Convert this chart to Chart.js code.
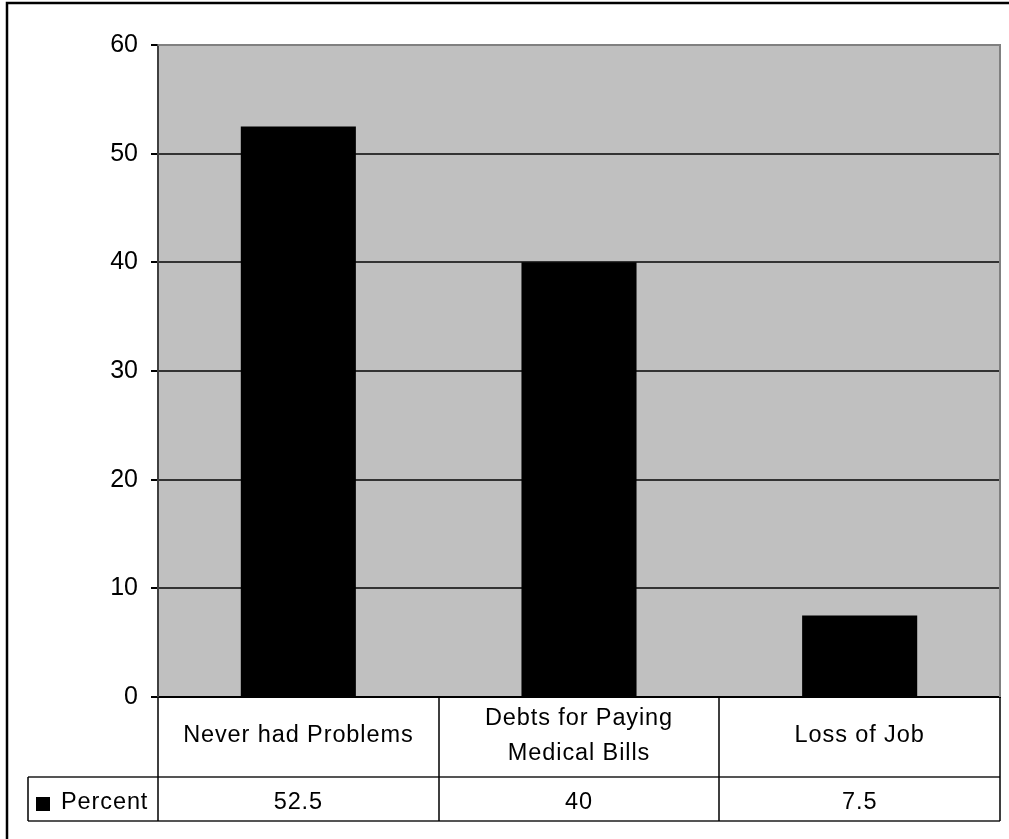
<!DOCTYPE html>
<html>
<head>
<meta charset="utf-8">
<title>Percent</title>
<script src="https://cdn.jsdelivr.net/npm/chart.js@4/dist/chart.umd.min.js"></script>
<style>
  html, body { margin: 0; padding: 0; background: #fff; }
  #chart { display: block; }
</style>
</head>
<body>
<canvas id="chart" width="1009" height="839"></canvas>
<script>
// ─── Data ─────────────────────────────────────────────────────────────────────
const categories    = ['Never had Problems', ['Debts for Paying', 'Medical Bills'], 'Loss of Job'];
const seriesName    = 'Percent';
const percentValues = [52.5, 40, 7.5];
const yMin  = 0;
const yMax  = 60;
const yStep = 10;

const FONT = "'Liberation Sans', Arial, Helvetica, sans-serif";

// ─── Plot background, outer frame ────────────────────────────────────────────
const framePlugin = {
  id: 'frame',
  beforeDraw(chart) {
    const { ctx, chartArea: a } = chart;
    ctx.save();
    ctx.fillStyle = '#c0c0c0';
    ctx.fillRect(a.left, a.top, a.right - a.left, a.bottom - a.top);
    ctx.restore();
  },
  afterDraw(chart) {
    const { ctx, chartArea: a } = chart;
    ctx.save();
    // grey border on the top/right of the plot
    ctx.strokeStyle = '#808080';
    ctx.lineWidth = 2;
    ctx.beginPath();
    ctx.moveTo(a.left, a.top);
    ctx.lineTo(a.right, a.top);
    ctx.lineTo(a.right, a.bottom);
    ctx.stroke();
    // outer frame
    ctx.strokeStyle = '#000';
    ctx.lineWidth = 2.5;
    ctx.strokeRect(7, 3, 1020, 860);
    ctx.restore();
  },
};

// ─── Data table under the x axis ─────────────────────────────────────────────
const dataTablePlugin = {
  id: 'dataTable',
  afterDraw(chart) {
    const { ctx } = chart;
    const x = chart.scales.x;
    const n = categories.length;
    const colW = (x.right - x.left) / n;
    const rowTop = x.top;
    const rowMid = rowTop + 80;
    const rowBottom = rowMid + 44;
    const keyLeft = 28;

    ctx.save();
    // horizontal rules
    ctx.strokeStyle = '#555';
    ctx.lineWidth = 2;
    ctx.beginPath();
    ctx.moveTo(keyLeft, rowMid);    ctx.lineTo(x.right, rowMid);
    ctx.moveTo(keyLeft, rowBottom); ctx.lineTo(x.right, rowBottom);
    ctx.stroke();

    // vertical rules
    ctx.strokeStyle = '#000';
    ctx.lineWidth = 1.5;
    ctx.beginPath();
    ctx.moveTo(keyLeft, rowMid); ctx.lineTo(keyLeft, rowBottom);
    for (let i = 0; i <= n; i++) {
      const px = Math.round(x.left + i * colW);
      ctx.moveTo(px, rowTop); ctx.lineTo(px, rowBottom);
    }
    ctx.stroke();

    ctx.fillStyle = '#000';
    ctx.font = `23.5px ${FONT}`;
    ctx.letterSpacing = '0.9px';
    ctx.textAlign = 'center';
    ctx.textBaseline = 'alphabetic';

    categories.forEach((label, i) => {
      const cx = x.getPixelForValue(i);
      const lines = Array.isArray(label) ? label : [label];
      lines.forEach((line, j) => {
        const base = rowTop + 45 + (j - (lines.length - 1) / 2) * 35;
        ctx.fillText(line, cx, base);
      });
      ctx.fillText(String(percentValues[i]), cx, rowBottom - 12.5);
    });

    // legend key + series name
    ctx.fillRect(36, rowMid + 20, 14, 14);
    ctx.textAlign = 'left';
    ctx.fillText(seriesName, 61, rowBottom - 12.5);
    ctx.restore();
  },
};

new Chart(document.getElementById('chart'), {
  type: 'bar',
  data: {
    labels: categories,
    datasets: [{
      label: seriesName,
      data: percentValues,
      backgroundColor: '#000',
      borderWidth: 0,
      barPercentage: 0.41,
      categoryPercentage: 1,
    }],
  },
  options: {
    responsive: false,
    animation: false,
    layout: { padding: { top: 45, right: 9, left: 0, bottom: 0 } },
    plugins: {
      legend: { display: false },
      tooltip: { enabled: false },
    },
    scales: {
      x: {
        offset: true,
        grid: { display: false },
        border: { color: '#000', width: 2 },
        ticks: { display: false },
        afterFit(scale) { scale.height = 142; },
      },
      y: {
        min: yMin,
        max: yMax,
        ticks: {
          stepSize: yStep,
          color: '#000',
          padding: 13,
          font: { family: FONT, size: 25 },
        },
        grid: {
          color: ctx => (ctx.tick && ctx.tick.value === yMax ? '#808080' : '#333'),
          lineWidth: 2,
          tickLength: 7,
          tickColor: '#000',
        },
        border: { color: '#404040', width: 2 },
        afterFit(scale) { scale.width = 158; },
      },
    },
  },
  plugins: [framePlugin, dataTablePlugin],
});
</script>
</body>
</html>
